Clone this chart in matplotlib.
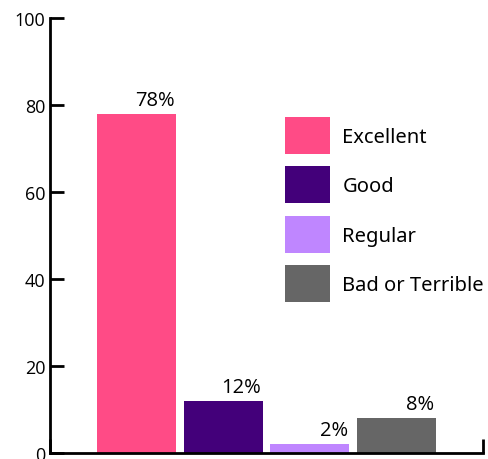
import matplotlib.pyplot as plt
from matplotlib.patches import Patch

categories = ["Excellent", "Good", "Regular", "Bad or Terrible"]
values = [78, 12, 2, 8]
colors = ["#ff4b86", "#43007a", "#bf86ff", "#666666"]


def main():
    fig = plt.figure(figsize=(4.88, 4.60), dpi=100)
    ax = fig.add_axes([0.1025, 0.013, 0.8875, 0.9457])

    positions = list(range(1, len(values) + 1))
    ax.bar(positions, values, width=0.91, color=colors)

    # value labels sit just above each bar, right aligned to its edge
    for x, v in zip(positions, values):
        ax.text(x + 0.44, v + 0.9, f"{v}%", ha="right", va="bottom",
                fontsize=14.5, family="Open Sans")

    ax.set_xlim(0, 5)
    ax.set_ylim(0, 100)
    ax.set_yticks([0, 20, 40, 60, 80, 100])
    ax.set_xticks([0, 5])
    ax.set_xticklabels([])
    ax.tick_params(axis="both", direction="in", length=10, width=2)
    ax.tick_params(axis="y", labelsize=13)
    for lbl in ax.get_yticklabels():
        lbl.set_family("Open Sans")

    for side in ("top", "right"):
        ax.spines[side].set_visible(False)
    for side in ("left", "bottom"):
        ax.spines[side].set_linewidth(2)

    handles = [Patch(facecolor=c, edgecolor="none") for c in colors]
    ax.legend(handles, categories, loc="upper left",
              bbox_to_anchor=(285 / 488, 1 - 118 / 460),
              bbox_transform=fig.transFigure, frameon=False,
              borderpad=0, borderaxespad=0,
              prop={"family": "Noto Sans", "size": 14.5},
              handlelength=2.25, handleheight=2.45,
              labelspacing=0.62, handletextpad=0.6)

    fig.savefig("out.png", dpi=100)


if __name__ == "__main__":
    main()
